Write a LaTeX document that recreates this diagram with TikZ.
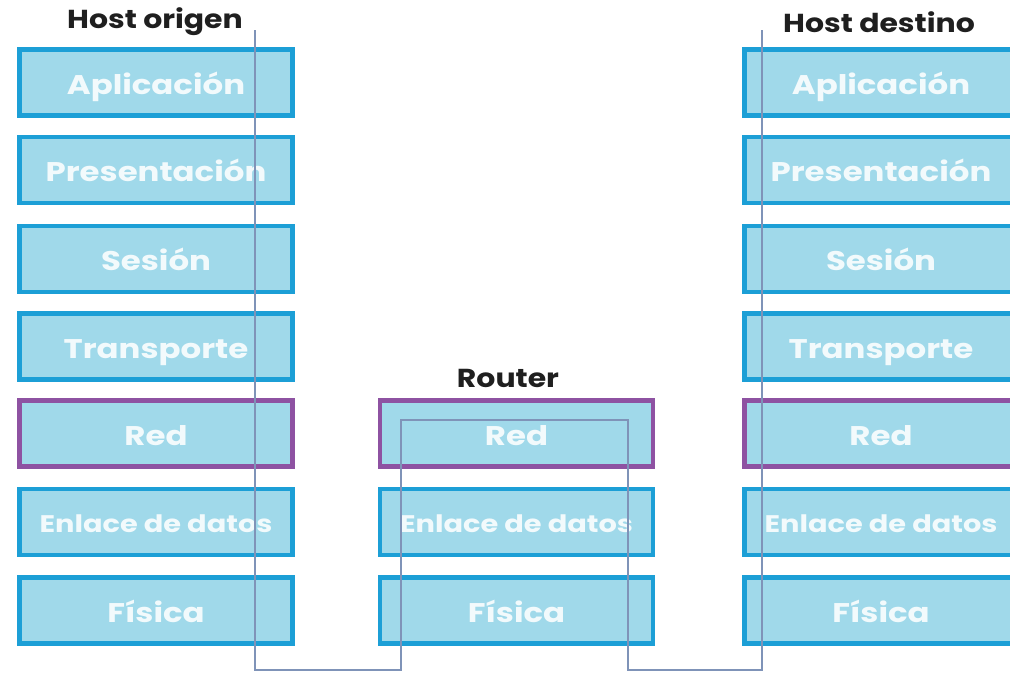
\documentclass[tikz,border=0pt]{standalone}
\usepackage{fontspec}
\setmainfont{Poppins}
\newfontfamily\layerfont[FakeStretch=1.2]{Poppins}
\newfontfamily\headfont[FakeStretch=1.15]{Poppins}
\definecolor{layerfill}{HTML}{A0D9EA}
\definecolor{layerblue}{HTML}{1C9FD6}
\definecolor{layerpurple}{HTML}{8E52A2}
\definecolor{layertext}{HTML}{F2FAFC}
\definecolor{pathline}{HTML}{7F93B8}
\begin{document}
\begin{tikzpicture}[x=1pt,y=-1pt,
  layer/.style={draw=layerblue, line width=4.5pt, fill=layerfill,
    minimum width=273pt, minimum height=66pt, inner sep=0pt,
    text height=23pt, text depth=0pt,
    text=layertext, font=\layerfont\fontsize{27}{30}\selectfont\bfseries},
  netlayer/.style={layer, draw=layerpurple},
  smalltext/.style={text height=21pt, font=\layerfont\fontsize{24}{28}\selectfont\bfseries},
  title/.style={font=\headfont\fontsize{26}{30}\selectfont\bfseries, text=black!88, inner sep=0pt},
  route/.style={draw=pathline, line width=1.5pt}]
\useasboundingbox (0,0) rectangle (1010,675);

% titles
\node[title] (torig) at (155,22) {Host origen};
\node[title] (trout) at (508,378) {Router};
\node[title] (tdest) at (879,22) {Host destino};

% source host stack
\node[layer] (o7) at (156,82.5) {Aplicación};
\node[layer] (o6) at (156,170) {Presentación};
\node[layer] (o5) at (156,259) {Sesión};
\node[layer] (o4) at (156,346.5) {Transporte};
\node[netlayer] (o3) at (156,433.5) {Red};
\node[layer, smalltext] (o2) at (156,522) {Enlace de datos};
\node[layer] (o1) at (156,610.5) {Física};

% router stack
\node[netlayer] (r3) at (516.5,433.5) {Red};
\node[layer, smalltext] (r2) at (516.5,522) {Enlace de datos};
\node[layer] (r1) at (516.5,610.5) {Física};

% destination host stack
\node[layer] (d7) at (881,82.5) {Aplicación};
\node[layer] (d6) at (881,170) {Presentación};
\node[layer] (d5) at (881,259) {Sesión};
\node[layer] (d4) at (881,346.5) {Transporte};
\node[netlayer] (d3) at (881,433.5) {Red};
\node[layer, smalltext] (d2) at (881,522) {Enlace de datos};
\node[layer] (d1) at (881,610.5) {Física};

% data path through the stacks
\coordinate (pstart) at (255,30);
\coordinate (pa) at (255,670);
\coordinate (pb) at (401,670);
\coordinate (pc) at (401,420);
\coordinate (pd) at (628,420);
\coordinate (pe) at (628,670);
\coordinate (pf) at (762,670);
\coordinate (pend) at (762,30);
\draw[route] (pstart) -- (pa) -- (pb) -- (pc) -- (pd) -- (pe) -- (pf) -- (pend);
\end{tikzpicture}
\end{document}
